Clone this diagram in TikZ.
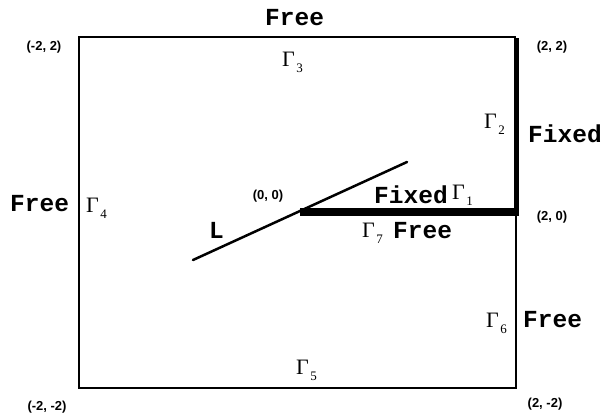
\documentclass[tikz,border=0pt]{standalone}
\usepackage{fontspec}
\setmainfont{Liberation Serif}
\newfontfamily\courfont{Liberation Mono}
\newfontfamily\arialfont{Liberation Sans}
\newcommand{\Gm}[1]{{\fontsize{22}{22}\selectfont Γ}\kern1.5pt\raisebox{-6pt}{\fontsize{13}{13}\selectfont #1}}
\tikzset{
  bc/.style={font=\courfont\bfseries\fontsize{24.5}{24.5}\selectfont, inner sep=0pt, anchor=base west},
  crd/.style={font=\arialfont\bfseries\fontsize{13}{13}\selectfont, inner sep=0pt},
  gam/.style={inner sep=0pt, anchor=base west},
  thinline/.style={line width=1.8pt},
  thickline/.style={line width=5pt},
  crackline/.style={line width=8pt},
  lline/.style={line width=2.5pt, line cap=round}
}
\begin{document}
\begin{tikzpicture}[x=1pt,y=-1pt]
\useasboundingbox (0,0) rectangle (607,415);
% corners
\coordinate (tl) at (79,37);
\coordinate (tr) at (516,37);
\coordinate (mr) at (516,212);
\coordinate (br) at (516,388);
\coordinate (bl) at (79,388);
\coordinate (o) at (300,212);
\coordinate (la) at (193,260);
\coordinate (lb) at (407,162);
% boundary
\draw[thinline, line join=miter] (mr) -- (br) -- (bl) -- (tl) -- (tr);
\draw[thickline] ([yshift=-1pt]tr) -- (mr);
\draw[crackline] (o) -- ([xshift=2.5pt]mr);
\draw[lline] (la) -- (lb);
% boundary condition labels
\node[bc] (ftop) at (265,25) {Free};
\node[bc] (fixr) at (528,142) {Fixed};
\node[bc] (fixc) at (374,203) {Fixed};
\node[bc] (free7) at (393,238) {Free};
\node[bc] (freel) at (10,211) {Free};
\node[bc] (freer) at (523,327) {Free};
\node[bc] (lbl) at (209,238) {L};
% gammas
\node[gam] (g1) at (452,199) {\Gm{1}};
\node[gam] (g2) at (484,128) {\Gm{2}};
\node[gam] (g3) at (282,66) {\Gm{3}};
\node[gam] (g4) at (86,212) {\Gm{4}};
\node[gam] (g5) at (296,374) {\Gm{5}};
\node[gam] (g6) at (486,327) {\Gm{6}};
\node[gam] (g7) at (362,237) {\Gm{7}};
% coordinate labels
\node[crd] (c1) at (44,47) {(-2, 2)};
\node[crd] (c2) at (552,47) {(2, 2)};
\node[crd] (c3) at (552,217) {(2, 0)};
\node[crd] (c4) at (268,196) {(0, 0)};
\node[crd] (c5) at (47,407) {(-2, -2)};
\node[crd] (c6) at (545,404) {(2, -2)};
\end{tikzpicture}
\end{document}
